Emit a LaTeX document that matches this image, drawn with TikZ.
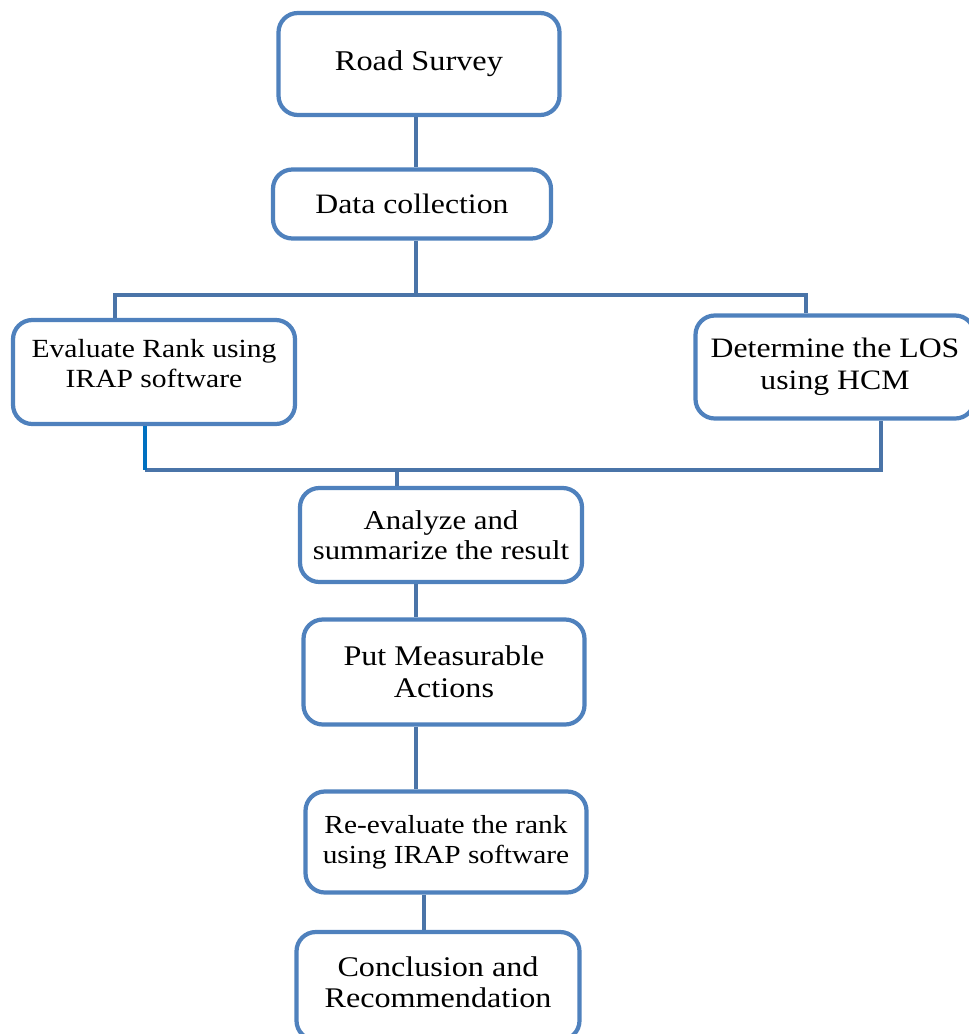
\documentclass[tikz,border=0pt]{standalone}
\usepackage{fontspec}
\setmainfont{Liberation Serif}[FakeStretch=1.13]
\usepackage{xcolor}
\usepackage{tikz}
\usetikzlibrary{positioning,calc}
\definecolor{boxblue}{RGB}{79,129,189}
\definecolor{linkblue}{RGB}{74,116,168}
\definecolor{brightblue}{RGB}{0,112,192}
\newcommand{\stagefont}[2]{\fontsize{#1}{#2}\selectfont}
\tikzset{
  stagebox/.style={rectangle, draw=boxblue, line width=2.4pt, rounded corners=11pt,
                   fill=white, align=center, inner sep=0pt,
                   font=\stagefont{16}{18}},
  link/.style={draw=linkblue, line width=2.2pt},
}

\begin{document}
\begin{tikzpicture}[x=0.02cm, y=-0.02cm]
  \useasboundingbox (0,0) rectangle (968,1034);
  % process stages
  \node[stagebox, minimum width=281*0.02cm, minimum height=102*0.02cm, font=\stagefont{16.3}{18}] (survey) at (419,64) {Road Survey};
  \node[stagebox, minimum width=278*0.02cm, minimum height=69*0.02cm] (collect) at (412,204) {Data collection};
  \node[stagebox, minimum width=282*0.02cm, minimum height=104*0.02cm, font=\stagefont{14.9}{17}] (evalrank) at (154,372) {Evaluate Rank using\\IRAP software\\[-7pt]};
  \node[stagebox, minimum width=279*0.02cm, minimum height=103*0.02cm] (los) at (835,367) {Determine the LOS\\using HCM};
  \node[stagebox, minimum width=282*0.02cm, minimum height=94*0.02cm, font=\stagefont{15.5}{17}] (analyze) at (441,535) {Analyze and\\summarize the result};
  \node[stagebox, minimum width=281*0.02cm, minimum height=105*0.02cm, font=\stagefont{16.2}{18.5}] (measure) at (444,672) {Put Measurable\\Actions};
  \node[stagebox, minimum width=281*0.02cm, minimum height=101*0.02cm, font=\stagefont{14.8}{17}] (reeval) at (446,842) {Re-evaluate the rank\\using IRAP software};
  \node[stagebox, minimum width=283*0.02cm, minimum height=108*0.02cm, font=\stagefont{16.2}{18}] (conclude) at (438,986) {Conclusion and\\Recommendation\\[-13.5pt]};
  % split and merge points
  \coordinate (splitL) at (115,295);
  \coordinate (splitR) at (806,295);
  \coordinate (mergeL) at (145,470);
  \coordinate (mergeM) at (397,470);
  \coordinate (mergeR) at (881,470);
  % connectors
  \draw[link] ($(survey.south)+(-3,0)$) -- ($(survey.south |- collect.north)+(-3,0)$);
  \draw[link] ($(collect.south)+(4,0)$) -- ($(collect.south |- splitL)+(4,0)$);
  \draw[link] (splitL |- evalrank.north) -- (splitL) -- (splitR) -- (splitR |- los.north);
  \draw[link] (mergeL) -- (mergeR) -- (mergeR |- los.south);
  \draw[link, draw=brightblue] (mergeL |- evalrank.south) -- (mergeL);
  \draw[link] (mergeM) -- (mergeM |- analyze.north);
  \draw[link] ($(analyze.south)+(-25,0)$) -- ($(analyze.south |- measure.north)+(-25,0)$);
  \draw[link] ($(measure.south)+(-28,0)$) -- ($(measure.south |- reeval.north)+(-28,0)$);
  \draw[link] ($(reeval.south)+(-22,0)$) -- ($(reeval.south |- conclude.north)+(-22,0)$);
\end{tikzpicture}
\end{document}
